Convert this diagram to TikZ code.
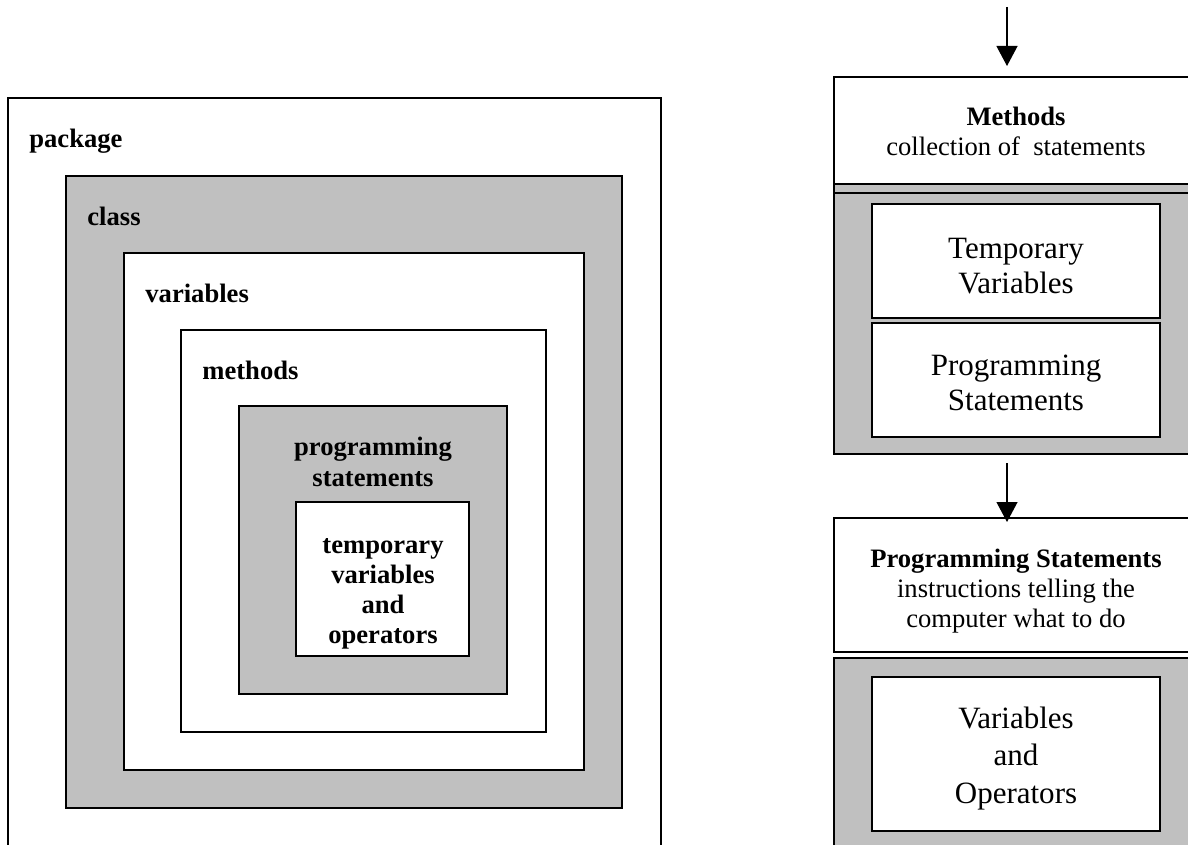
\documentclass[tikz,border=0pt]{standalone}
\usepackage{fontspec}
\setmainfont{Liberation Serif}
\usetikzlibrary{arrows.meta,fit,calc}
\definecolor{shade}{RGB}{192,192,192}
\begin{document}
\begin{tikzpicture}[x=0.5pt,y=-0.5pt,
  frame/.style={draw=black, line width=0.7pt, inner sep=0pt, outer sep=0pt},
  whitebox/.style={frame, fill=white},
  greybox/.style={frame, fill=shade},
  tag/.style={font=\fontsize{13.3}{15.3}\selectfont\bfseries, inner sep=0pt, anchor=base west},
  boldblock/.style={font=\fontsize{13.3}{#1}\selectfont\bfseries, inner sep=0pt, align=center, anchor=base},
  plainblock/.style={font=\fontsize{13.3}{15}\selectfont, inner sep=0pt, align=center, anchor=base},
  bigblock/.style={font=\fontsize{15.5}{#1}\selectfont, inner sep=0pt, align=center, anchor=base},
  flow/.style={line width=0.6pt, -{Triangle[length=10pt,width=10.5pt]}}
]
\useasboundingbox (0,0) rectangle (1188,845);
\clip (0,0) rectangle (1188,845);

% nested scopes: package > class > variables > methods > statements > operands
\node[whitebox, fit={(8,98)(661,900)}] (pkg) {};
\node[greybox,  fit={(66,176)(622,808)}] (cls) {};
\node[whitebox, fit={(124,253)(584,770)}] (var) {};
\node[whitebox, fit={(181,330)(546,732)}] (mth) {};
\node[greybox,  fit={(239,406)(507,694)}] (stm) {};
\node[whitebox, fit={(296,502)(469,656)}] (tmp) {};

% multi-line labels are placed by the baseline of their last line
\node[tag] (pkgl) at (29,148) {package};
\node[tag] (clsl) at (87,226) {class};
\node[tag] (varl) at (145,302) {variables};
\node[tag] (mthl) at (202,379) {methods};
\node[boldblock=15.5] (stml) at (373,486) {programming\\statements};
\node[boldblock=15] (tmpl) at (383,643) {temporary\\variables\\and\\operators};

% right column: methods breakdown
\node[greybox,  fit={(834,184)(1198,454)}] (mbody) {};
\draw[line width=0.7pt] ([yshift=-4.5pt]mbody.north west) -- ([yshift=-4.5pt]mbody.north east);
\node[whitebox, fit={(834,77)(1198,184)}] (meth) {};
\node[whitebox, fit={(872,204)(1160,318)}] (tv) {};
\node[whitebox, fit={(872,323)(1160,437)}] (ps) {};

\node[plainblock] (methl) at (1016,156) {\textbf{Methods}\\collection of\ \ statements};
\node[bigblock=17.5] (tvl) at (1016,293) {Temporary\\Variables};
\node[bigblock=17.5] (psl) at (1016,410) {Programming\\Statements};

% right column: statements breakdown
\node[whitebox, fit={(834,518)(1198,652)}] (stat) {};
\node[greybox,  fit={(834,658)(1198,900)}] (sbody) {};
\node[whitebox, fit={(872,677)(1160,831)}] (vo) {};

\node[plainblock] (statl) at (1016,627) {\textbf{Programming Statements}\\instructions telling the\\computer what to do};
\node[bigblock=18.75] (vol) at (1016,803) {Variables\\and\\Operators};

% flow arrows
\coordinate (in1) at (1007,7);
\coordinate (in2) at (1007,463);
\draw[flow, shorten >=5.5pt] (in1) -- (in1 |- meth.north);
\draw[flow, shorten >=-2pt] (in2) -- (in2 |- stat.north);
\end{tikzpicture}
\end{document}
